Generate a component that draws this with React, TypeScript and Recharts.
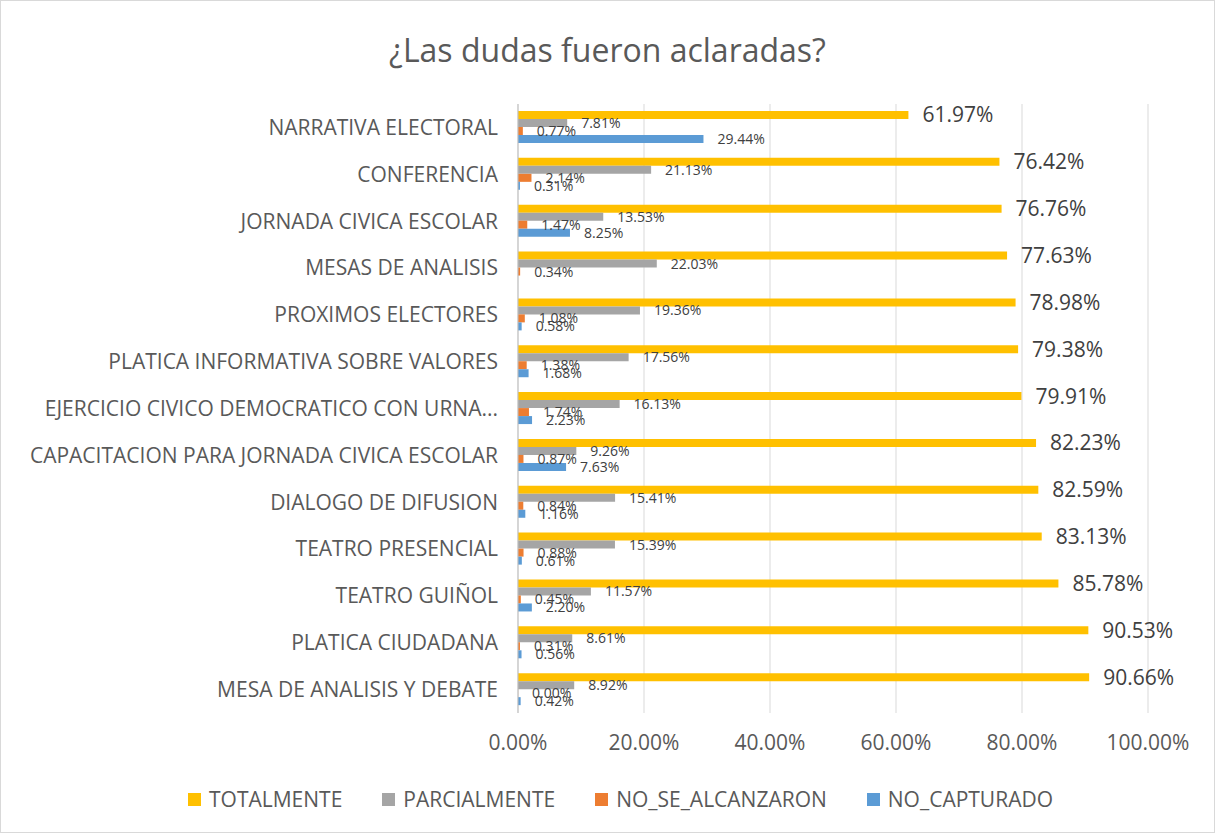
import React from 'react';
import {
    BarChart,
    Bar,
    XAxis,
    YAxis,
    CartesianGrid,
    Legend,
    LabelList,
} from 'recharts';

const categories = [
    'NARRATIVA ELECTORAL',
    'CONFERENCIA',
    'JORNADA CIVICA ESCOLAR',
    'MESAS DE ANALISIS',
    'PROXIMOS ELECTORES',
    'PLATICA INFORMATIVA SOBRE VALORES',
    'EJERCICIO CIVICO DEMOCRATICO CON URNA...',
    'CAPACITACION PARA JORNADA CIVICA ESCOLAR',
    'DIALOGO DE DIFUSION',
    'TEATRO PRESENCIAL',
    'TEATRO GUIÑOL',
    'PLATICA CIUDADANA',
    'MESA DE ANALISIS Y DEBATE',
];

const totalmente = [61.97, 76.42, 76.76, 77.63, 78.98, 79.38, 79.91, 82.23, 82.59, 83.13, 85.78, 90.53, 90.66];
const parcialmente = [7.81, 21.13, 13.53, 22.03, 19.36, 17.56, 16.13, 9.26, 15.41, 15.39, 11.57, 8.61, 8.92];
const noSeAlcanzaron = [0.77, 2.14, 1.47, 0.34, 1.08, 1.38, 1.74, 0.87, 0.84, 0.88, 0.45, 0.31, 0.0];
const noCapturado = [29.44, 0.31, 8.25, null, 0.58, 1.68, 2.23, 7.63, 1.16, 0.61, 2.2, 0.56, 0.42];

const xTicks = [0, 20, 40, 60, 80, 100];

const series = [
    { key: 'TOTALMENTE', color: '#FFC000' },
    { key: 'PARCIALMENTE', color: '#A5A5A5' },
    { key: 'NO_SE_ALCANZARON', color: '#ED7D31' },
    { key: 'NO_CAPTURADO', color: '#5B9BD5' },
];

const data = categories.map((name, i) => ({
    name,
    TOTALMENTE: totalmente[i],
    PARCIALMENTE: parcialmente[i],
    NO_SE_ALCANZARON: noSeAlcanzaron[i],
    NO_CAPTURADO: noCapturado[i],
}));

const pct = (v: any) => (v == null ? '' : Number(v).toFixed(2) + '%');

const LegendContent = () => (
    <div
        style={{
            display: 'flex',
            justifyContent: 'center',
            paddingLeft: 26,
            fontSize: 21,
            color: '#595959',
        }}
    >
        {series.map((s) => (
            <div
                key={s.key}
                style={{ display: 'flex', alignItems: 'center', margin: '0 20px' }}
            >
                <span
                    style={{
                        width: 13,
                        height: 13,
                        background: s.color,
                        marginRight: 8,
                        display: 'inline-block',
                    }}
                />
                <span>{s.key}</span>
            </div>
        ))}
    </div>
);

const App = () => {
    return (
        <div
            style={{
                position: 'absolute',
                left: 0,
                top: 0,
                width: 1215,
                height: 833,
                border: '1px solid #D9D9D9',
                boxSizing: 'border-box',
                background: '#fff',
                fontFamily: '"Open Sans", sans-serif',
            }}
        >
            <div
                style={{
                    position: 'absolute',
                    top: 27,
                    left: 0,
                    width: '100%',
                    textAlign: 'center',
                    fontSize: 32,
                    color: '#595959',
                }}
            >
                ¿Las dudas fueron aclaradas?
            </div>
            <BarChart
                width={1213}
                height={831}
                data={data}
                layout="vertical"
                margin={{ top: 103, right: 66, left: 0, bottom: 51 }}
                barSize={8}
                barGap={0}
            >
                <CartesianGrid horizontal={false} stroke="#D9D9D9" />
                <XAxis
                    type="number"
                    domain={[0, 100]}
                    ticks={xTicks}
                    tickFormatter={pct}
                    axisLine={false}
                    tickLine={false}
                    tickSize={0}
                    tickMargin={22}
                    height={40}
                    tick={{ fontSize: 21, fill: '#595959' }}
                />
                <YAxis
                    type="category"
                    dataKey="name"
                    width={517}
                    axisLine={{ stroke: '#BFBFBF' }}
                    tickLine={false}
                    tickSize={0}
                    tickMargin={20}
                    interval={0}
                    tick={{ fontSize: 21, fill: '#595959' }}
                />
                <Legend
                    verticalAlign="bottom"
                    content={<LegendContent />}
                    wrapperStyle={{ top: 784, left: 0, width: 1213 }}
                />
                {series.map((s, idx) => (
                    <Bar
                        key={s.key}
                        dataKey={s.key}
                        fill={s.color}
                        minPointSize={s.key === 'NO_SE_ALCANZARON' ? 0.1 : 0}
                        isAnimationActive={false}
                    >
                        <LabelList
                            dataKey={s.key}
                            position="right"
                            offset={idx === 0 ? 14 : 14}
                            formatter={pct}
                            fill="#404040"
                            fontSize={idx === 0 ? 21 : 14}
                        />
                    </Bar>
                ))}
            </BarChart>
        </div>
    );
};

export default App;
